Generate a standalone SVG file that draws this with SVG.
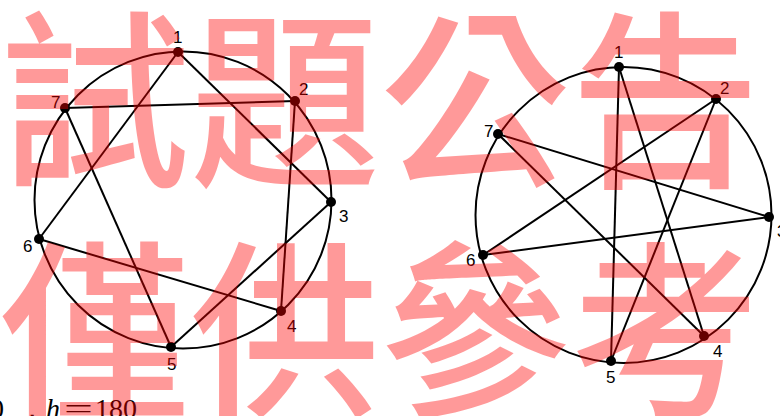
<svg xmlns="http://www.w3.org/2000/svg" width="780" height="416" viewBox="0 0 780 416">
<style>
.ring{fill:none;stroke:#000;stroke-width:2}
.edge{stroke:#000;stroke-width:2;fill:none}
.dot{fill:#000}
.lbl{font-family:"Liberation Sans",Arial,sans-serif;font-size:17px;fill:#000}
.math{font-family:"Liberation Serif","Times New Roman",serif;font-size:28px;fill:#000}
.wm{font-family:"Noto Sans CJK TC","Noto Sans CJK SC",sans-serif;font-size:190px;font-weight:500;fill:#ff0000;fill-opacity:0.4}
</style>
<rect width="780" height="416" fill="#fff"/>
<circle class="ring" cx="183" cy="200" r="148.5"/>
<circle class="ring" cx="623.5" cy="215" r="148"/>
<g id="connectors">
<line class="edge" x1="178" y1="52" x2="39" y2="239"/>
<line class="edge" x1="178" y1="52" x2="331" y2="202"/>
<line class="edge" x1="65" y1="108" x2="295" y2="101"/>
<line class="edge" x1="65" y1="108" x2="171" y2="347"/>
<line class="edge" x1="295" y1="101" x2="281" y2="311"/>
<line class="edge" x1="39" y1="239" x2="281" y2="311"/>
<line class="edge" x1="171" y1="347" x2="331" y2="202"/>
<line class="edge" x1="619" y1="67" x2="611" y2="361"/>
<line class="edge" x1="619" y1="67" x2="704" y2="336"/>
<line class="edge" x1="716" y1="99" x2="483" y2="255"/>
<line class="edge" x1="716" y1="99" x2="611" y2="361"/>
<line class="edge" x1="498" y1="134" x2="769" y2="217"/>
<line class="edge" x1="498" y1="134" x2="704" y2="336"/>
<line class="edge" x1="483" y1="255" x2="769" y2="217"/>
</g>
<g id="L1"><circle class="dot" cx="178" cy="52" r="5"/><text class="lbl" x="173" y="43">1</text></g>
<g id="L2"><circle class="dot" cx="295" cy="101" r="5"/><text class="lbl" x="299" y="95">2</text></g>
<g id="L3"><circle class="dot" cx="331" cy="202" r="5"/><text class="lbl" x="339" y="222">3</text></g>
<g id="L4"><circle class="dot" cx="281" cy="311" r="5"/><text class="lbl" x="287" y="332">4</text></g>
<g id="L5"><circle class="dot" cx="171" cy="347" r="5"/><text class="lbl" x="167" y="370">5</text></g>
<g id="L6"><circle class="dot" cx="39" cy="239" r="5"/><text class="lbl" x="23" y="252">6</text></g>
<g id="L7"><circle class="dot" cx="65" cy="108" r="5"/><text class="lbl" x="51" y="108">7</text></g>
<g id="R1"><circle class="dot" cx="619" cy="67" r="5"/><text class="lbl" x="614" y="58">1</text></g>
<g id="R2"><circle class="dot" cx="716" cy="99" r="5"/><text class="lbl" x="720" y="94">2</text></g>
<g id="R3"><circle class="dot" cx="769" cy="217" r="5"/><text class="lbl" x="777" y="237">3</text></g>
<g id="R4"><circle class="dot" cx="704" cy="336" r="5"/><text class="lbl" x="713" y="357">4</text></g>
<g id="R5"><circle class="dot" cx="611" cy="361" r="5"/><text class="lbl" x="606" y="383">5</text></g>
<g id="R6"><circle class="dot" cx="483" cy="255" r="5"/><text class="lbl" x="466" y="266">6</text></g>
<g id="R7"><circle class="dot" cx="498" cy="134" r="5"/><text class="lbl" x="484" y="137">7</text></g>
<g id="caption">
<text class="math" x="-10" y="418">0</text>
<text class="math" x="18" y="418" font-family="'Noto Sans CJK TC',sans-serif">，</text>
<text class="math" x="46" y="418" font-style="italic">h</text>
<text class="math" x="64" y="418" textLength="29" lengthAdjust="spacingAndGlyphs">=</text>
<text class="math" x="95" y="418">180</text>
</g>
<g id="watermark">
<text class="wm" x="0" y="172">試題公告</text>
<text class="wm" x="0" y="402">僅供參考</text>
</g>
</svg>
